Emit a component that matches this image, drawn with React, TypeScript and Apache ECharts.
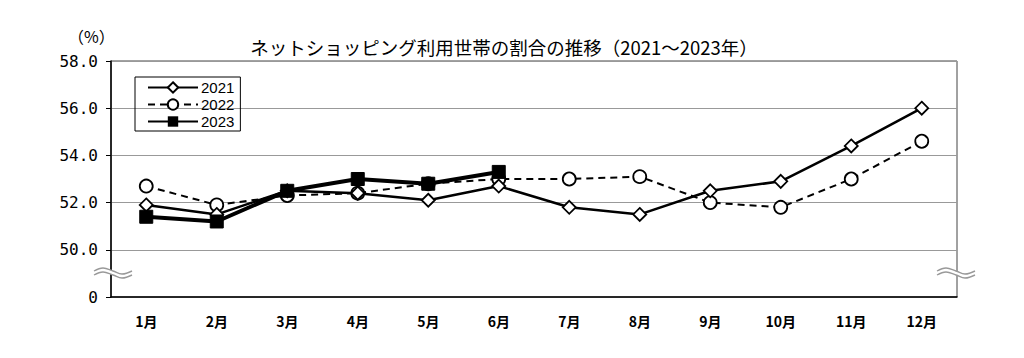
import React, { useEffect, useRef } from "react";
import * as echarts from "echarts";

const months = ["1月", "2月", "3月", "4月", "5月", "6月", "7月", "8月", "9月", "10月", "11月", "12月"];
const data2021 = [51.9, 51.5, 52.5, 52.4, 52.1, 52.7, 51.8, 51.5, 52.5, 52.9, 54.4, 56.0];
const data2022 = [52.7, 51.9, 52.3, 52.4, 52.8, 53.0, 53.0, 53.1, 52.0, 51.8, 53.0, 54.6];
const data2023 = [51.4, 51.2, 52.5, 53.0, 52.8, 53.3];
const yMin = 48;
const yMax = 58;
const yStep = 2;
const titleText = "ネットショッピング利用世帯の割合の推移（2021～2023年）";

const jp = "'Noto Sans CJK JP', 'Noto Sans', sans-serif";

function wave(x: number, y: number) {
  const pts = (dy: number) => [
    [x, y + 3 + dy],
    [x + 9, y + dy],
    [x + 19, y + 3 + dy],
    [x + 28, y + 6 + dy],
    [x + 38, y + 3 + dy],
  ];
  return [
    {
      type: "polygon",
      shape: { points: [...pts(0), ...pts(4).reverse()], smooth: 0.4 },
      style: { fill: "#fff", stroke: "none" },
      z: 100,
    },
    {
      type: "polyline",
      shape: { points: pts(0), smooth: 0.4 },
      style: { stroke: "#999", fill: "none", lineWidth: 1.4 },
      z: 101,
    },
    {
      type: "polyline",
      shape: { points: pts(4), smooth: 0.4 },
      style: { stroke: "#999", fill: "none", lineWidth: 1.4 },
      z: 101,
    },
  ];
}

export default function App() {
  const ref = useRef<HTMLDivElement>(null);
  useEffect(() => {
    if (!ref.current) return;
    const chart = echarts.init(ref.current, null, { renderer: "svg" });
    chart.setOption({
      animation: false,
      backgroundColor: "#fff",
      title: {
        text: titleText,
        left: 499,
        textAlign: "center",
        top: 33,
        textStyle: { fontFamily: jp, fontSize: 18.5, fontWeight: "normal", color: "#000" },
      },
      legend: {
        orient: "vertical",
        left: 135,
        top: 77,
        padding: [3, 6, 2, 12],
        itemGap: 2,
        itemWidth: 50,
        itemHeight: 13,
        borderColor: "#000",
        borderWidth: 1,
        textStyle: { fontFamily: "'Liberation Sans', Arial, sans-serif", fontSize: 15, color: "#000", padding: [0, 0, 0, -2] },
        data: ["2021", "2022", "2023"],
      },
      grid: {
        left: 111,
        right: 67,
        top: 61,
        bottom: 61,
        show: true,
        borderColor: "#444",
        borderWidth: 1,
      },
      xAxis: {
        type: "category",
        data: months,
        boundaryGap: true,
        axisLine: { lineStyle: { color: "#000", width: 1.5 } },
        axisTick: { inside: true, length: 5, lineStyle: { color: "#000" } },
        axisLabel: { fontFamily: jp, fontSize: 14, fontWeight: "bold", color: "#000", margin: 17 },
      },
      yAxis: {
        type: "value",
        min: yMin,
        max: yMax,
        interval: yStep,
        axisLine: { show: true, lineStyle: { color: "#000", width: 1.5 } },
        axisTick: { show: true, inside: false, length: 5, lineStyle: { color: "#000" } },
        splitLine: { lineStyle: { color: "#999", width: 1 } },
        axisLabel: {
          fontFamily: "'DejaVu Sans Mono', monospace",
          fontSize: 16,
          color: "#000",
          margin: 13,
          formatter: (v: number) => (v === yMin ? "0" : v.toFixed(1)),
        },
      },
      graphic: [
        {
          type: "text",
          left: 68,
          top: 28,
          style: { text: "（%）", font: `16px ${jp}`, fill: "#000" },
        },
        ...wave(94, 268),
        ...wave(937, 268),
      ],
      series: [
        {
          name: "2021",
          type: "line",
          data: data2021,
          symbol: "diamond",
          symbolSize: 13,
          lineStyle: { color: "#000", width: 2.5 },
          itemStyle: { color: "#fff", borderColor: "#000", borderWidth: 1.8 },
          z: 3,
        },
        {
          name: "2022",
          type: "line",
          data: data2022,
          symbol: "circle",
          symbolSize: 13,
          lineStyle: { color: "#000", width: 2, type: [7, 5] },
          itemStyle: { color: "#fff", borderColor: "#000", borderWidth: 1.8 },
          z: 2,
        },
        {
          name: "2023",
          type: "line",
          data: data2023,
          symbol: "rect",
          symbolSize: 13,
          lineStyle: { color: "#000", width: 4 },
          itemStyle: { color: "#000", borderColor: "#000" },
          z: 4,
        },
      ],
    });
    return () => chart.dispose();
  }, []);
  return <div ref={ref} style={{ width: 1024, height: 358, position: "absolute", left: 0, top: 0 }} />;
}
